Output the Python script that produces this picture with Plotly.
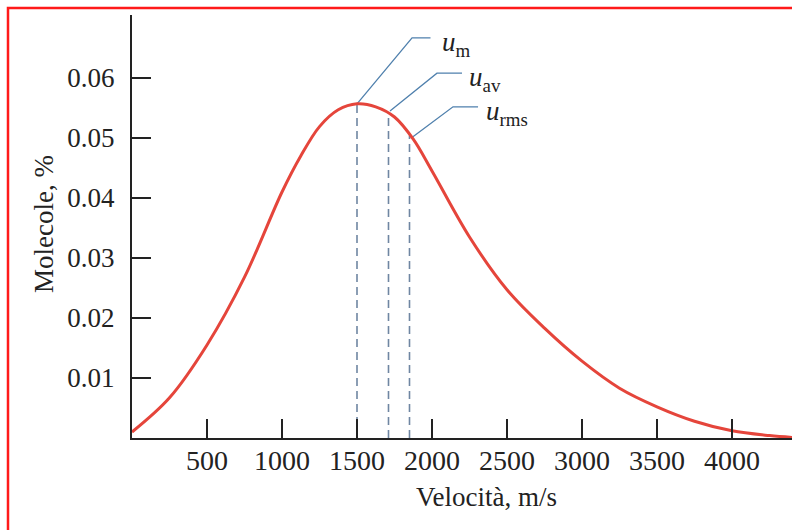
import plotly.graph_objects as go

# ---- data ----
velocity = [0, 250, 500, 750, 1000, 1125, 1250, 1375, 1500, 1625, 1750, 1875,
            2000, 2250, 2500, 2750, 3000, 3250, 3500, 3750, 4000, 4250, 4400]
molecules = [0.0010, 0.0067, 0.0155, 0.0268, 0.0410, 0.0470, 0.0519, 0.0547,
             0.0557, 0.0552, 0.0535, 0.0498, 0.0445, 0.0335, 0.0247, 0.0183,
             0.0128, 0.0083, 0.0052, 0.0028, 0.0012, 0.0004, 0.0001]

speed_names = ["m", "av", "rms"]
speed_values = [1500, 1710, 1850]
speed_heights = [0.0557, 0.0543, 0.0504]

x_ticks = [500, 1000, 1500, 2000, 2500, 3000, 3500, 4000]
y_ticks = [0.01, 0.02, 0.03, 0.04, 0.05, 0.06]

# leader lines (curve point -> bend -> end), and label anchors
leader_x = [[1500, 1867, 1990], [1720, 2033, 2200], [1873, 2140, 2307]]
leader_y = [[0.0557, 0.0667, 0.0667], [0.0545, 0.0608, 0.0608], [0.0502, 0.0552, 0.0552]]
label_x = [2050, 2230, 2345]
label_y = [0.0657, 0.0598, 0.0541]

SERIF = "Liberation Serif, Times New Roman, serif"
DASH_COLOR = "#6f86a2"
LEADER_COLOR = "#4f80ad"

fig = go.Figure()

# dashed verticals
for v, h in zip(speed_values, speed_heights):
    fig.add_trace(go.Scatter(x=[v, v], y=[0, h], mode="lines",
                             line=dict(color=DASH_COLOR, width=1.6, dash="8px,5px"),
                             hoverinfo="skip", showlegend=False))

# leader lines
for lx, ly in zip(leader_x, leader_y):
    fig.add_trace(go.Scatter(x=lx, y=ly, mode="lines",
                             line=dict(color=LEADER_COLOR, width=1.3),
                             hoverinfo="skip", showlegend=False))

# curve
fig.add_trace(go.Scatter(x=velocity, y=molecules, mode="lines",
                         line=dict(color="#e5453b", width=3, shape="spline", smoothing=1.0),
                         showlegend=False))

annotations = []
for name, x, y in zip(speed_names, label_x, label_y):
    annotations.append(dict(x=x, y=y, xref="x", yref="y", xanchor="left", yanchor="middle",
                            text=f"<i>u</i><sub>{name}</sub>", showarrow=False,
                            font=dict(family=SERIF, size=27, color="#222")))

annotations.append(dict(x=(486 - 132) / 660, y=(438 - 497) / 423, xref="paper", yref="paper",
                        xanchor="center", yanchor="middle", text="Velocità, m/s",
                        showarrow=False, font=dict(family=SERIF, size=27, color="#222")))
annotations.append(dict(x=(44 - 132) / 660, y=(438 - 224) / 423, xref="paper", yref="paper",
                        xanchor="center", yanchor="middle", text="Molecole, %", textangle=-90,
                        showarrow=False, font=dict(family=SERIF, size=27, color="#222")))

fig.update_layout(
    width=792, height=530,
    margin=dict(l=132, r=0, t=15, b=92, autoexpand=False),
    paper_bgcolor="white", plot_bgcolor="white",
    annotations=annotations,
    shapes=[dict(type="rect", xref="paper", yref="paper",
                 x0=(8 - 132) / 660, x1=1.1, y0=-0.4, y1=1 + (15 - 8) / 423,
                 line=dict(color="#ff1a1a", width=2.5), fillcolor="rgba(0,0,0,0)", layer="above")],
)

fig.update_xaxes(range=[0, 4400], tickvals=x_ticks, ticktext=[str(t) for t in x_ticks],
                 ticks="inside", ticklen=19, tickwidth=2, tickcolor="#222", automargin=False,
                 showline=True, linecolor="#222", linewidth=2, showgrid=False, zeroline=False,
                 ticklabelstandoff=-4,
                 tickfont=dict(family=SERIF, size=28, color="#222"))
fig.update_yaxes(range=[0, 0.0705], tickvals=y_ticks, ticktext=[f"{t:.2f}" for t in y_ticks],
                 ticks="inside", ticklen=19, tickwidth=2, tickcolor="#222", automargin=False,
                 showline=True, linecolor="#222", linewidth=2, showgrid=False, zeroline=False,
                 ticklabelstandoff=10,
                 tickfont=dict(family=SERIF, size=27, color="#222"))

fig.write_html("out.html", config={"displayModeBar": False},
               post_script="document.body.style.margin='0';document.body.style.padding='0';")
